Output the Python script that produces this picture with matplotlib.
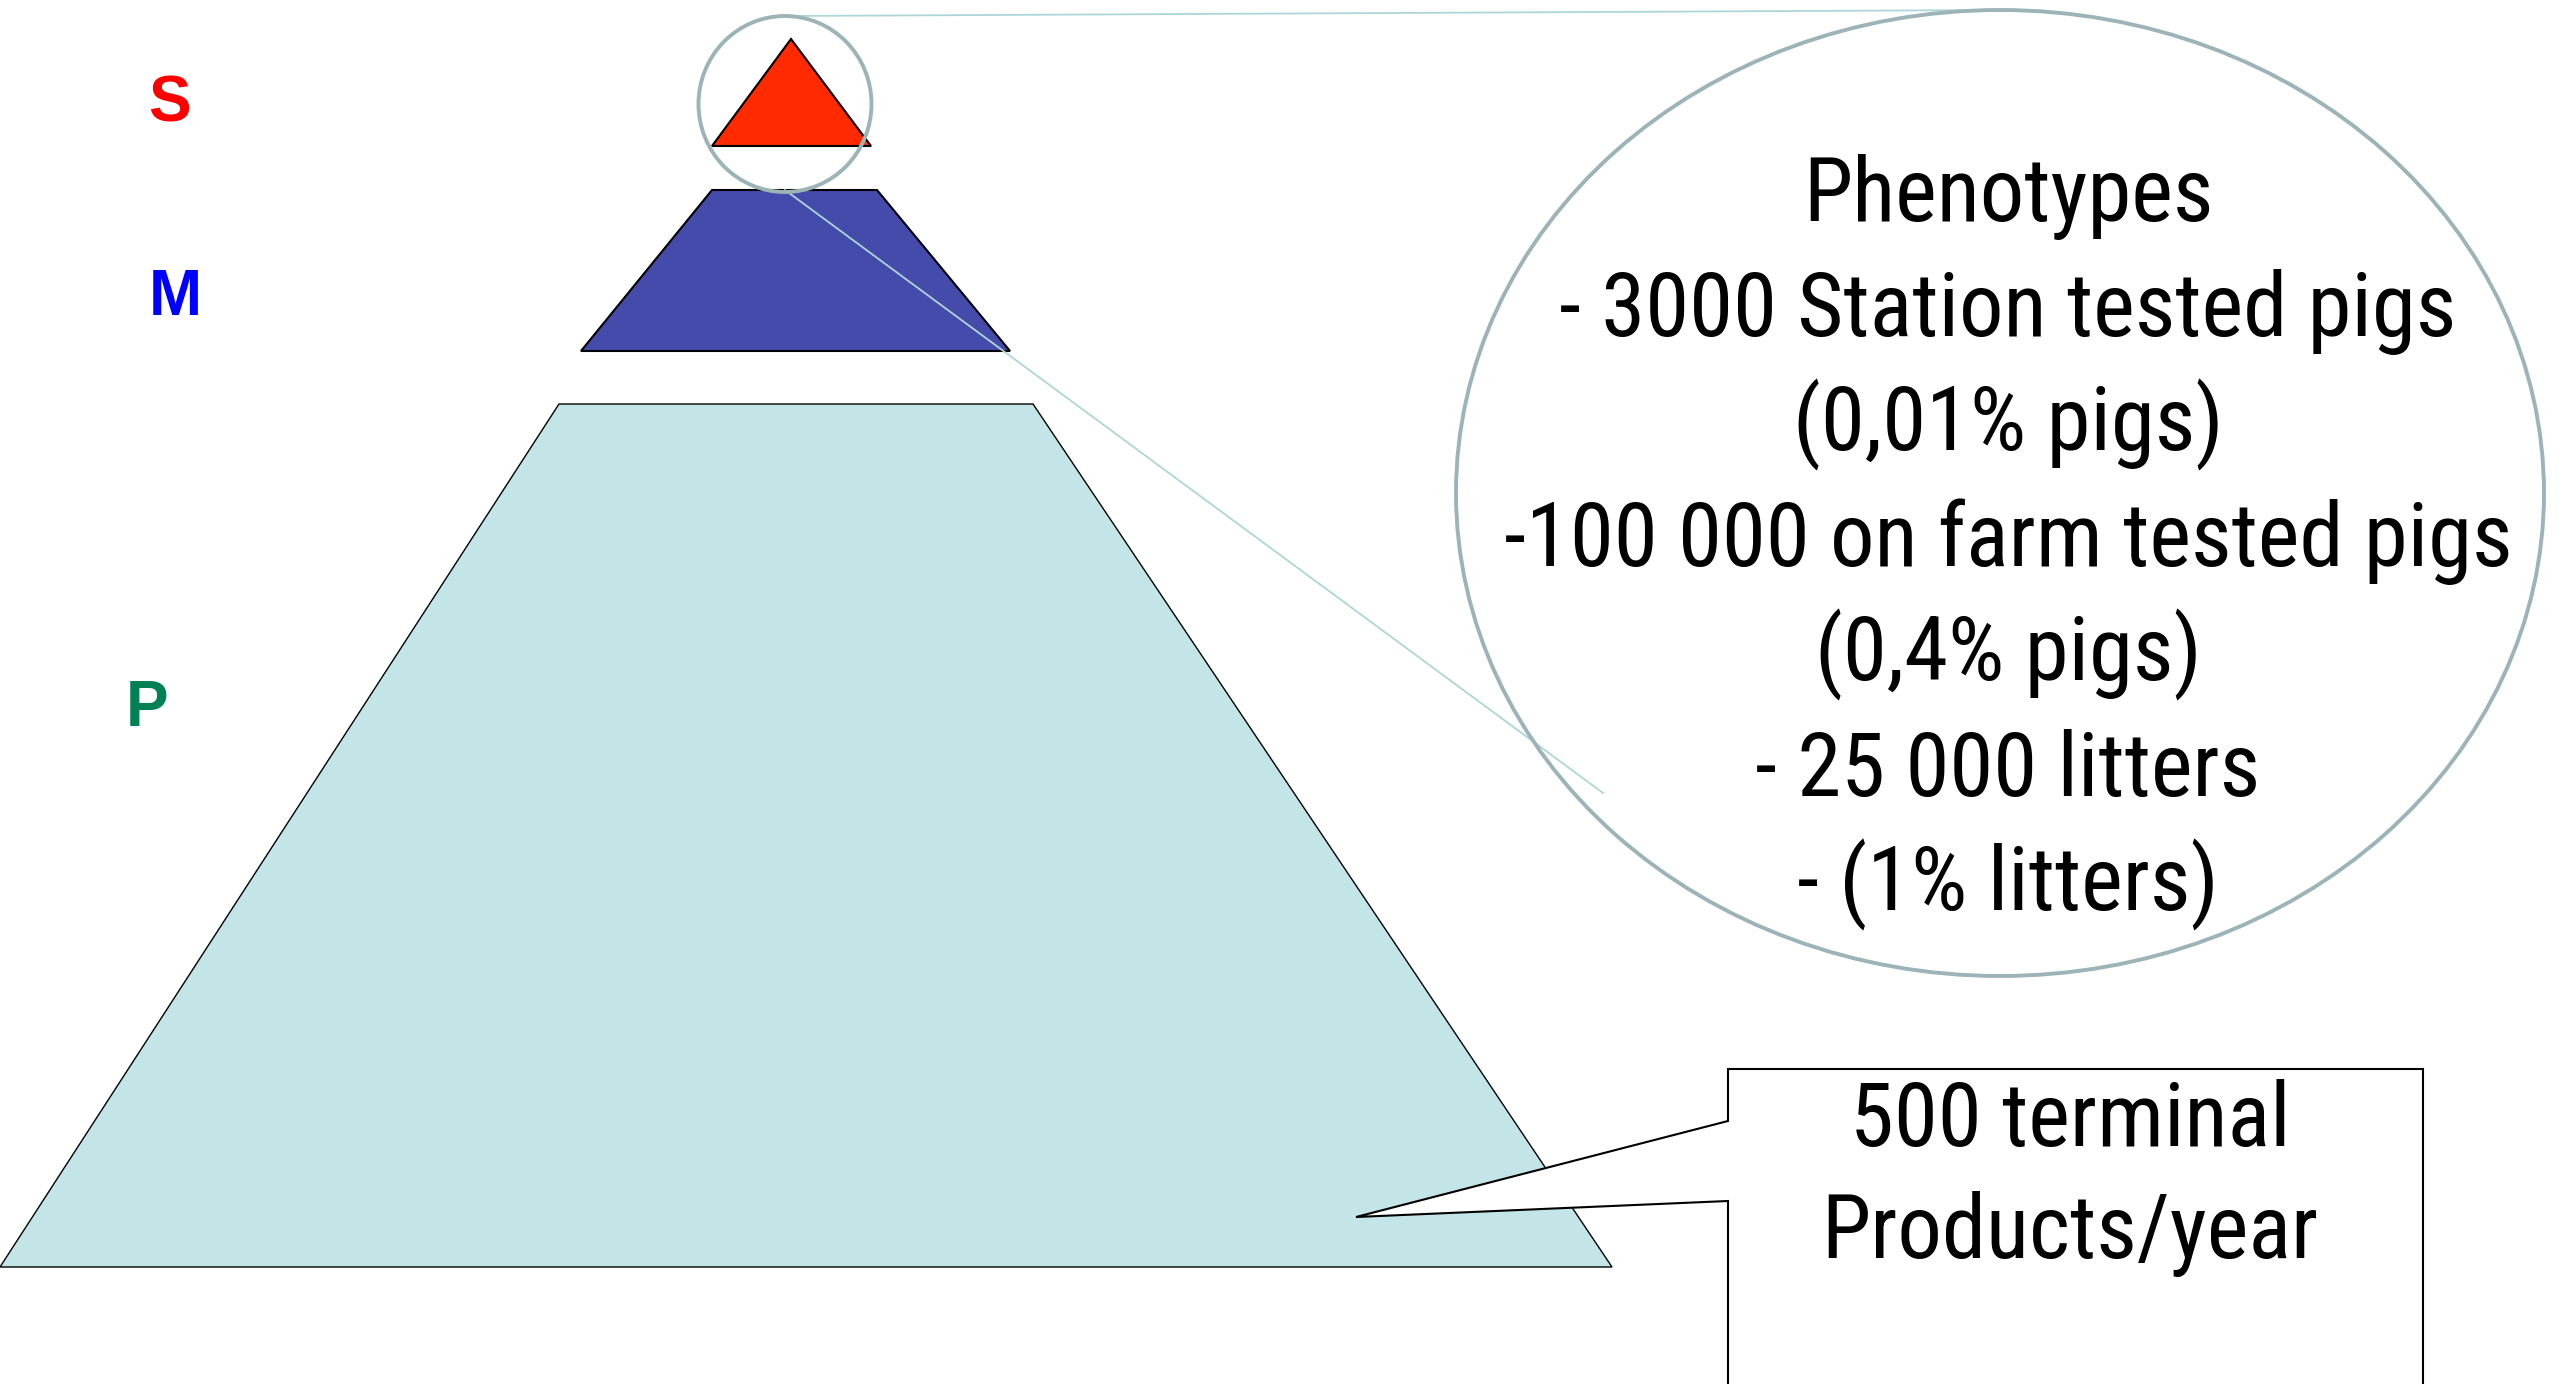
import matplotlib
matplotlib.use("Agg")
import matplotlib.pyplot as plt
from matplotlib import font_manager
from matplotlib.patches import Polygon, Ellipse

# pyramid tiers (pixel coords of the slide, y downwards)
tier_names = ["S", "M", "P"]
tier_label_xy = [(169, 121), (175, 315), (147, 726)]
tier_colors = ["#ff0000", "#0000ff", "#008055"]
tier_shapes = [
    [(791, 39), (871, 146), (712, 146)],
    [(712, 190), (877, 190), (1010, 351), (581, 351)],
    [(559, 404), (1033, 404), (1612, 1267), (0, 1267)],
]
tier_fills = ["#ff2a00", "#444baa", "#c4e5e8"]

# zoom ellipses and connector lines
zoom_small = (785, 104, 173, 176)
zoom_big = (2000, 493, 1088, 966)
connectors = [((785, 16), (2000, 10)), ((785, 190), (1603, 793))]

pheno_lines = [
    "Phenotypes",
    "- 3000 Station tested pigs",
    "(0,01% pigs)",
    "-100 000 on farm tested pigs",
    "(0,4% pigs)",
    "- 25 000 litters",
    "- (1% litters)",
]

# callout box
callout = [(1728, 1069), (2423, 1069), (2423, 1400), (1728, 1400),
           (1728, 1201), (1356, 1217), (1728, 1121)]
callout_lines = ["500 terminal", "Products/year"]


def narrow_font():
    # the slide used a narrow Arial; take a condensed face if one is installed
    fonts = font_manager.fontManager.ttflist
    names = {f.name for f in fonts}
    for name in ["Liberation Sans Narrow", "Arial Narrow", "Roboto Condensed",
                 "Noto Sans Condensed", "Open Sans Condensed", "DejaVu Sans Condensed"]:
        if name in names:
            return dict(family=[name, "DejaVu Sans"]), 64
    for f in fonts:
        if f.name in ("Roboto", "Noto Sans", "Open Sans", "Inter") and str(f.stretch) == "condensed" \
                and f.weight in (400, "normal", "regular"):
            return dict(family=[f.name, "DejaVu Sans"], fontstretch="condensed"), 64
    return dict(family=["Liberation Sans", "DejaVu Sans"]), 55


txt_kw, txt_size = narrow_font()

fig = plt.figure(figsize=(25.6, 13.84), dpi=100)
ax = fig.add_axes([0, 0, 1, 1])
ax.set_xlim(0, 2560)
ax.set_ylim(1384, 0)
ax.axis("off")

for shape, fc, lw in zip(tier_shapes, tier_fills, [1.5, 1.5, 1.0]):
    ax.add_patch(Polygon(shape, closed=True, facecolor=fc, edgecolor="black", lw=lw, zorder=2))

for name, (x, y), c in zip(tier_names, tier_label_xy, tier_colors):
    ax.text(x, y, name, color=c, fontsize=46, fontweight="bold",
            family=["Liberation Sans", "DejaVu Sans"], ha="center", va="baseline")

for (x0, y0), (x1, y1) in connectors:
    ax.plot([x0, x1], [y0, y1], color="#add6da", lw=1.3, zorder=3)

for cx, cy, w, h in [zoom_small, zoom_big]:
    ax.add_patch(Ellipse((cx, cy), w, h, facecolor="none", edgecolor="#9cb4b8", lw=2.8, zorder=4))

for i, line in enumerate(pheno_lines):
    ax.text(2008, 221 + i * 115, line, fontsize=txt_size, ha="center", va="baseline",
            zorder=5, **txt_kw)

ax.add_patch(Polygon(callout, closed=True, facecolor="white", edgecolor="black", lw=1.5, zorder=6))
for i, line in enumerate(callout_lines):
    ax.text(2070, 1146 + i * 112, line, fontsize=txt_size, ha="center", va="baseline",
            zorder=7, **txt_kw)

fig.savefig("out.png", dpi=100)
